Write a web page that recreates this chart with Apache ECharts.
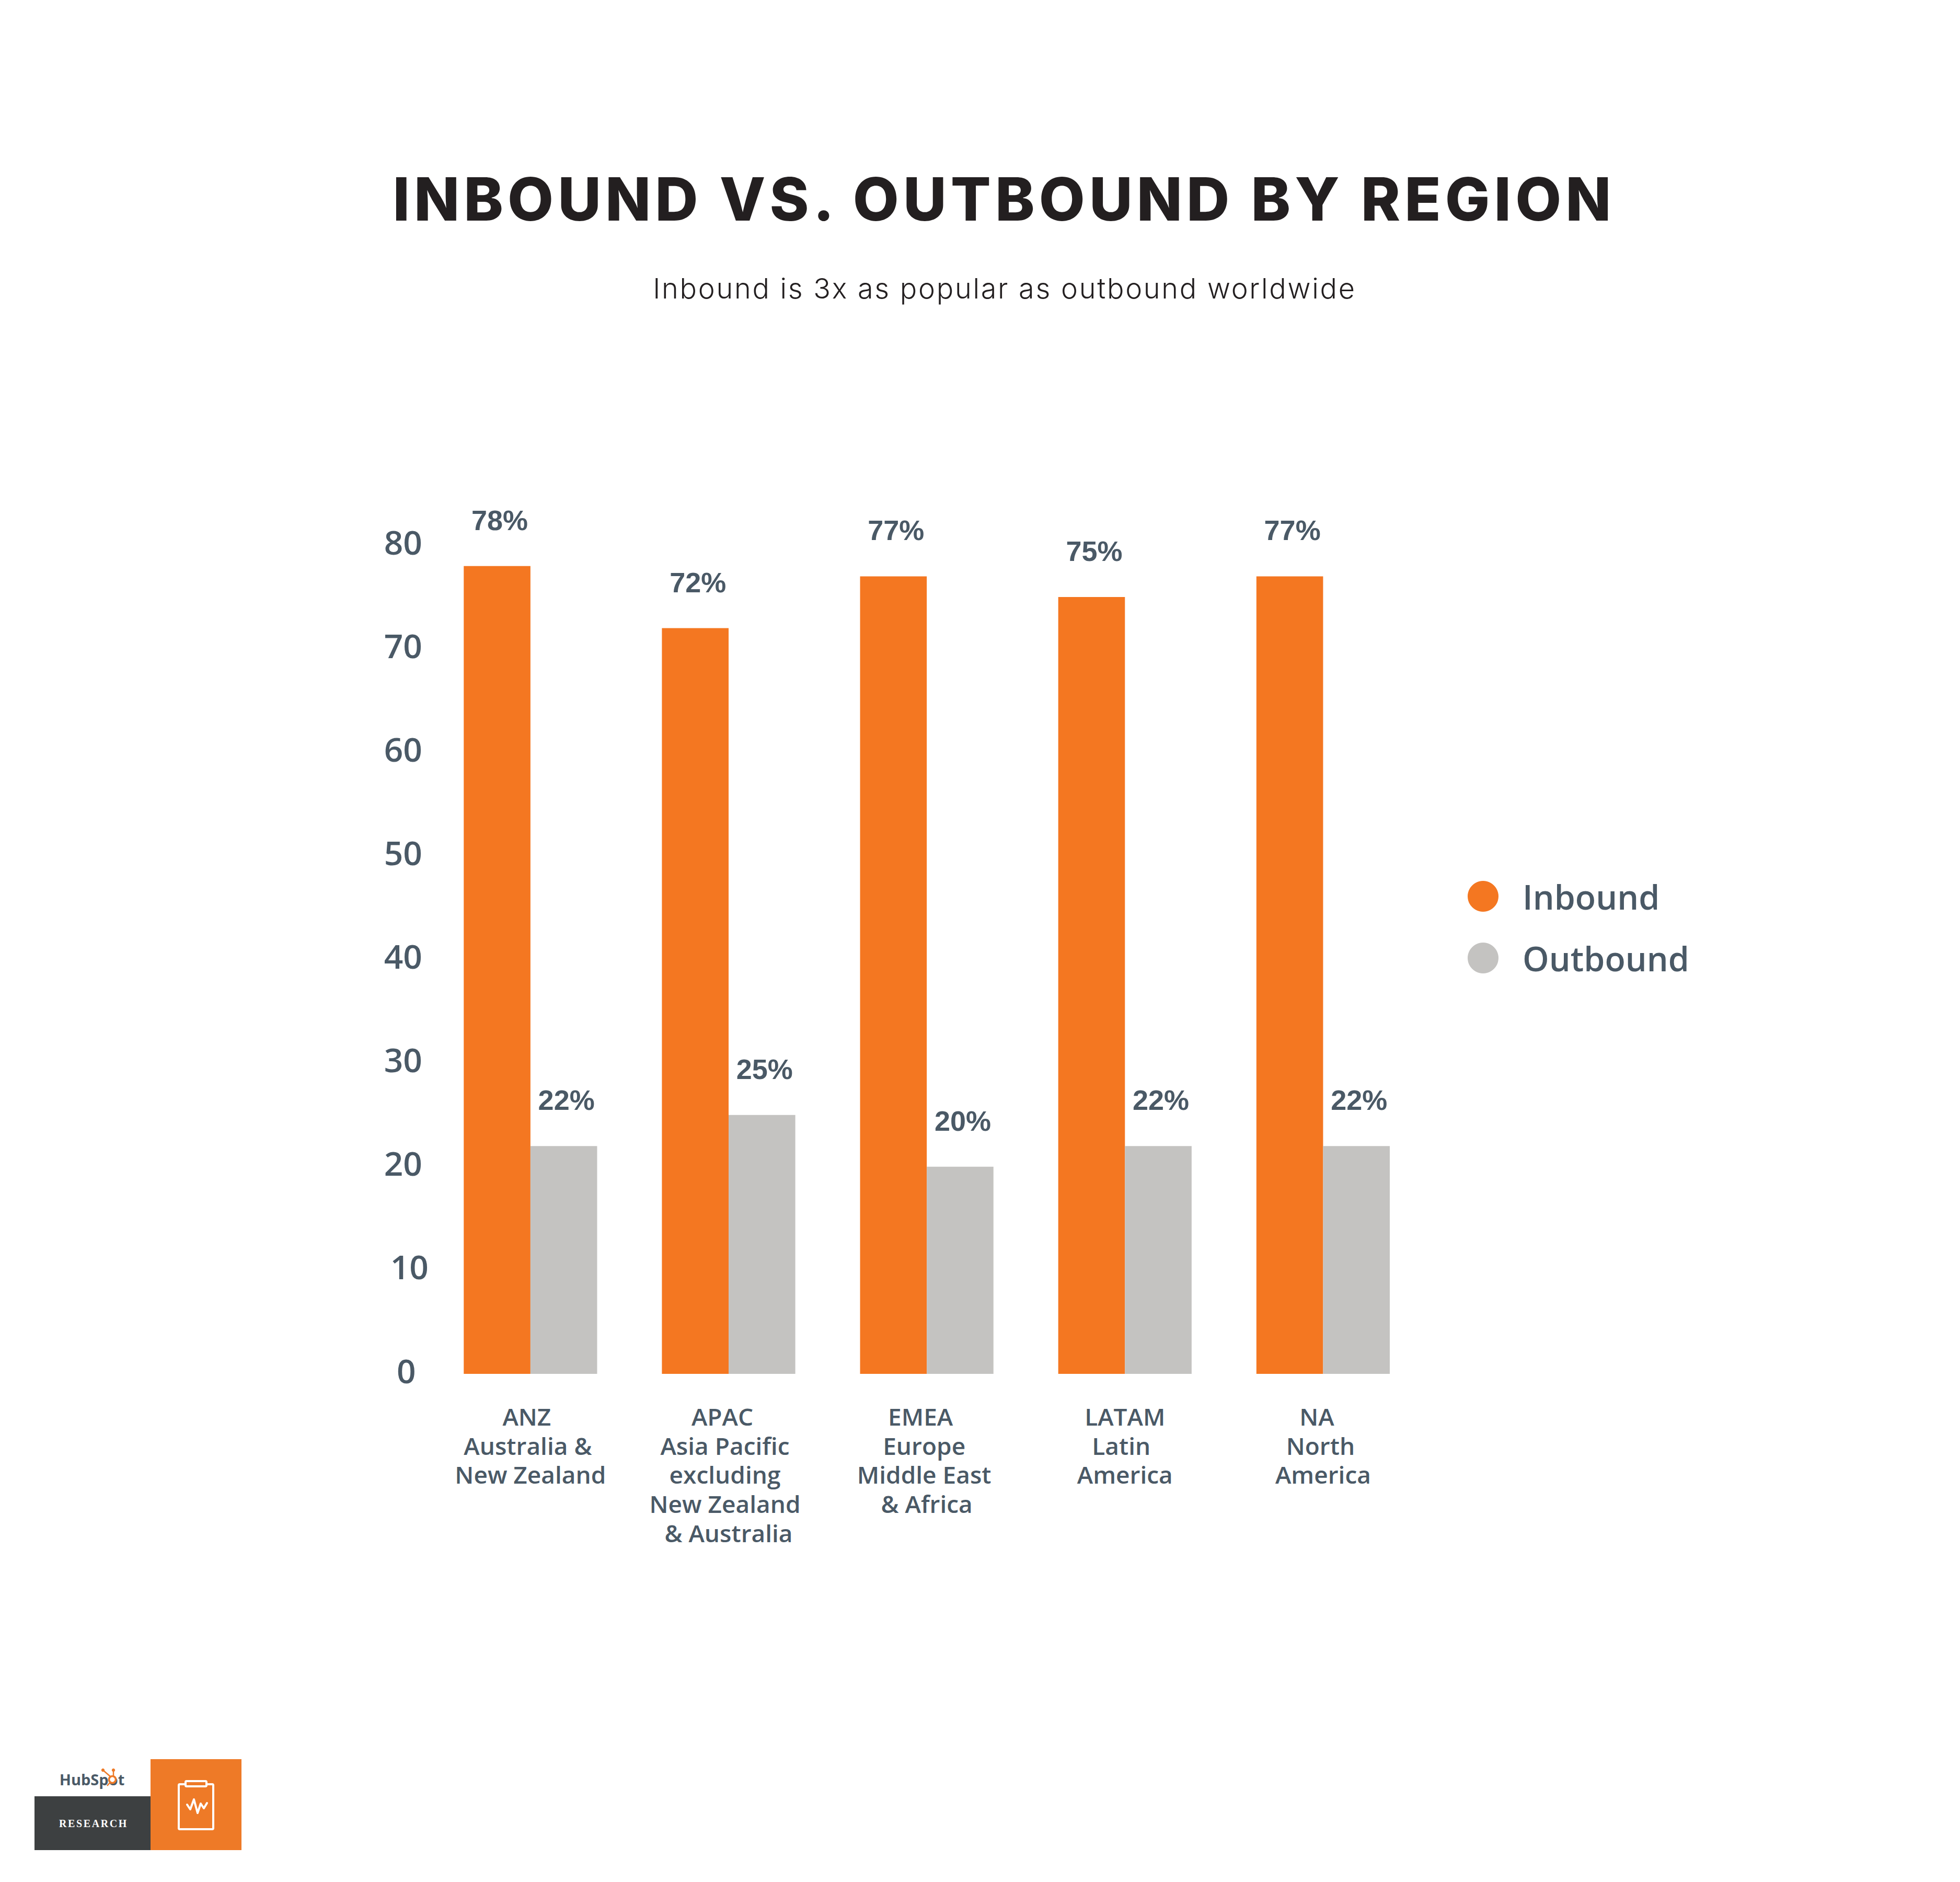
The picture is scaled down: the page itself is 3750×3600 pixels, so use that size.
<!DOCTYPE html>
<html><head><meta charset="utf-8">
<style>
html,body{margin:0;padding:0;background:#fff}
#c{width:3750px;height:3600px}
#c text[style*="Inter"][style*="800"]{letter-spacing:8px}
#c text[style*="Inter"][style*="300"]{letter-spacing:2.7px}
#c text[style*="Liberation Serif"]{letter-spacing:2.6px}
</style>
<script src="https://cdn.jsdelivr.net/npm/echarts@6/dist/echarts.min.js"></script>
</head><body><div id="c"></div>
<script>
const titleText = 'INBOUND VS. OUTBOUND BY REGION';
const subtitleText = 'Inbound is 3x as popular as outbound worldwide';
const categories = ['ANZ\nAustralia &\nNew Zealand','APAC\nAsia Pacific\nexcluding\nNew Zealand\n& Australia','EMEA\nEurope\nMiddle East\n& Africa','LATAM\nLatin\nAmerica','NA\nNorth\nAmerica'];
const inbound = [78,72,77,75,77];
const outbound = [22,25,20,22,22];
const ORANGE='#f47721', GREY='#c4c3c1', SLATE='#4a5966', INK='#231f20', LOGO='#ee7a27';
const chart = echarts.init(document.getElementById('c'), null, {renderer:'svg', width:3750, height:3600});
const labelStyle = {show:true, position:'top', distance:62, offset:[5,1], formatter:'{c}%', fontFamily:'Liberation Sans', fontWeight:'bold', fontSize:54, color:SLATE};
// Each wrapped line of the reference's tick labels sits slightly left of the centre; style names give the nudge.
const nudge = [['c','b','a'],['d','c','c','c','a'],['d','b','b','a'],['a','c','a'],['d','b','a']];
const tickBase = {fontFamily:'Open Sans', fontWeight:600, fontSize:46, lineHeight:55.7, color:SLATE};
const tickRich = {
  a:{...tickBase},
  b:{...tickBase, padding:[0,10,0,0]},
  c:{...tickBase, padding:[0,14,0,0]},
  d:{...tickBase, padding:[0,24,0,0]}
};
const yBase = {fontFamily:'Open Sans', fontWeight:600, fontSize:64, lineHeight:14, color:SLATE};
chart.setOption({
  animation:false,
  backgroundColor:'#fff',
  title:[
    {text:titleText, left:1916, top:318, textAlign:'center', textStyle:{fontFamily:'Inter', fontWeight:800, fontSize:114, color:INK}},
    {text:subtitleText, left:1917, top:519, textAlign:'center', textStyle:{fontFamily:'Inter', fontWeight:300, fontSize:54, color:INK}}
  ],
  grid:{left:825.3, right:1029, top:1043, bottom:972, containLabel:false},
  legend:{orient:'vertical', left:2803, top:1677, icon:'circle', itemWidth:59, itemHeight:59, itemGap:53, data:['Inbound','Outbound'],
    textStyle:{fontFamily:'Open Sans', fontWeight:600, fontSize:64.5, color:SLATE, padding:[0,0,0,41]}},
  xAxis:{type:'category', data:categories, axisLine:{show:false}, axisTick:{show:false},
    axisLabel:{margin:53, interval:0, align:'center', verticalAlign:'top', ...tickBase, rich:tickRich,
      formatter:(v,i)=>v.split('\n').map((t,k)=>'{'+nudge[i][k]+'|'+t+'}').join('\n')}},
  yAxis:{type:'value', min:0, max:80, interval:10, axisLine:{show:false}, axisTick:{show:false}, splitLine:{show:false},
    axisLabel:{margin:54, align:'center', verticalAlign:'bottom', ...yBase,
      rich:{n:{...yBase}, ten:{...yBase, padding:[0,0,0,24]}, zero:{...yBase, padding:[0,0,0,12]}},
      formatter:v=>'{'+(v===10?'ten':v===0?'zero':'n')+'|'+v+'}'}},
  series:[
    {name:'Inbound', type:'bar', data:inbound, barWidth:127.6, barGap:0, itemStyle:{color:ORANGE}, label:labelStyle},
    {name:'Outbound', type:'bar', data:outbound, barWidth:127.6, barGap:0, itemStyle:{color:GREY}, label:labelStyle}
  ],
  graphic:[
    {type:'rect', shape:{x:66,y:3436,width:222,height:103}, style:{fill:'#3d4041'}},
    {type:'rect', shape:{x:288,y:3365,width:174,height:174}, style:{fill:LOGO}},
    {type:'text', style:{text:'RESEARCH', x:179, y:3488, align:'center', verticalAlign:'middle', font:'bold 20px "Liberation Serif"', fill:'#fff'}},
    {type:'text', style:{text:'HubSpot', x:176, y:3403, align:'center', verticalAlign:'middle', font:'700 29px "Open Sans"', fill:'#4a5966'}},
    {type:'line', shape:{x1:197,y1:3386,x2:212,y2:3399}, style:{stroke:LOGO,lineWidth:2.5}},
    {type:'line', shape:{x1:217,y1:3387,x2:217,y2:3398}, style:{stroke:LOGO,lineWidth:2.5}},
    {type:'line', shape:{x1:212,y1:3408,x2:205,y2:3416}, style:{stroke:LOGO,lineWidth:2.5}},
    {type:'circle', shape:{cx:197,cy:3386,r:3.2}, style:{fill:LOGO}},
    {type:'circle', shape:{cx:217,cy:3386,r:3.2}, style:{fill:LOGO}},
    {type:'circle', shape:{cx:204,cy:3417,r:3}, style:{fill:LOGO}},
    {type:'circle', shape:{cx:215,cy:3404,r:6.5}, style:{fill:'#fff',stroke:LOGO,lineWidth:3.5}},
    {type:'rect', shape:{x:342,y:3413,width:66,height:86,r:2}, style:{fill:'none',stroke:'#fff',lineWidth:4}},
    {type:'rect', shape:{x:355,y:3407,width:40,height:10,r:2}, style:{fill:LOGO,stroke:'#fff',lineWidth:4}},
    {type:'polyline', shape:{points:[[358,3452],[364,3461],[371,3442],[378,3468],[384,3450],[390,3459],[396,3449]]}, style:{fill:'none',stroke:'#fff',lineWidth:4,lineJoin:'round',lineCap:'round'}}
  ]
});
</script></body></html>
